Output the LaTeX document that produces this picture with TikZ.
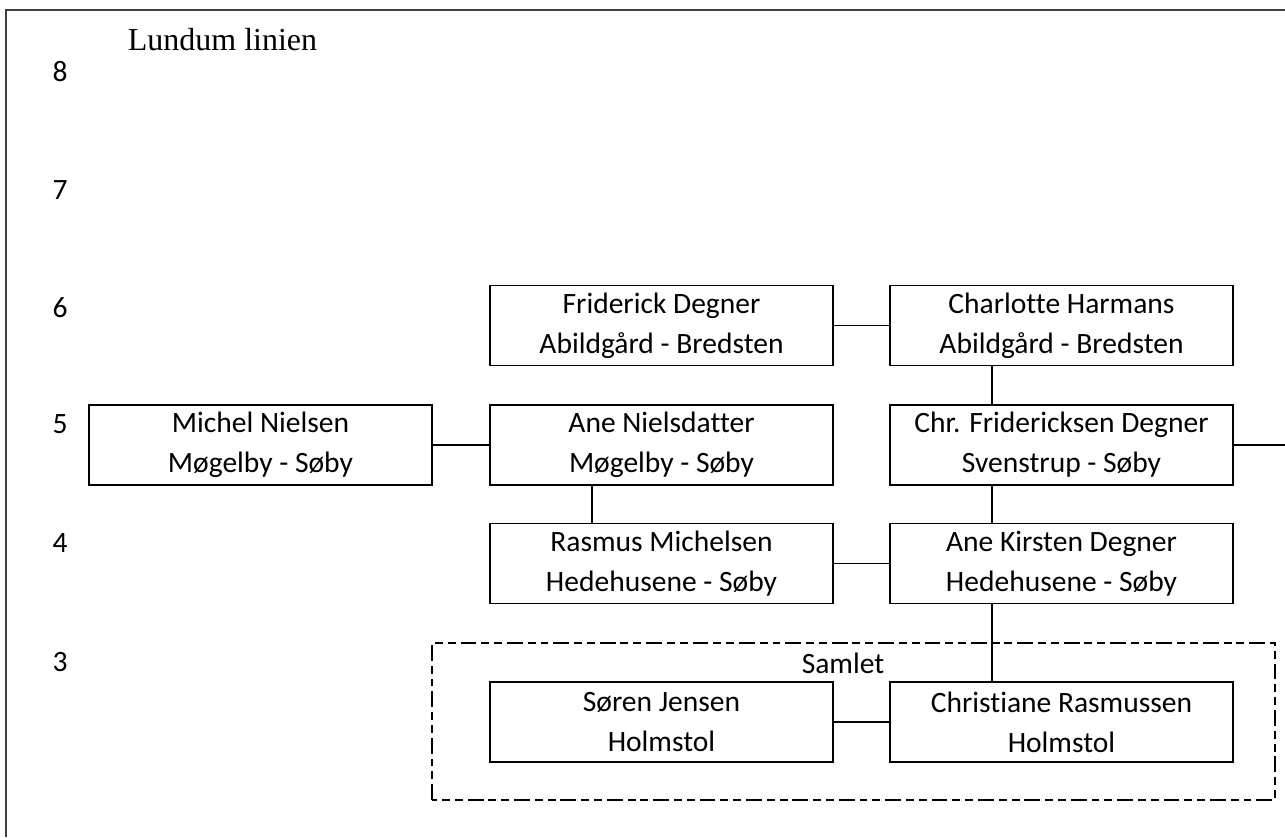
\documentclass[tikz,border=0pt]{standalone}
\usepackage{fontspec}
\setmainfont[Ligatures=NoCommon]{Carlito}
\newfontfamily\titlefont{Liberation Serif}
\begin{document}
\begin{tikzpicture}[
    person/.style={draw, line width=1pt, minimum width=6.86cm, minimum height=1.6cm,
        align=center, inner sep=0pt, font=\fontsize{16.8}{22.8}\selectfont},
    gen/.style={font=\fontsize{16.8}{20}\selectfont},
    link/.style={line width=0.8pt},
    samlet/.style={line width=0.9pt, dash pattern=on 9pt off 2.8pt on 4.5pt off 2.8pt on 4.5pt off 2.8pt}]
    \useasboundingbox (0,0) rectangle (25.7,16.74);
    \draw[line width=1.2pt, black!75] (0.12,0) -- (0.12,16.54) -- (25.7,16.54);
    \node[font=\titlefont\fontsize{18.2}{20}\selectfont] (title) at (4.45,15.94) {Lundum linien};
    \foreach \g/\y in {8/15.3, 7/12.94, 6/10.58, 5/8.26, 4/5.88, 3/3.5}
        \node[gen] (gen\g) at (1.2,\y) {\g};
    \node[person] (friderick) at (13.23,10.23) {Friderick Degner\\Abildgård - Bredsten};
    \node[person] (charlotte) at (21.23,10.23) {Charlotte Harmans\\Abildgård - Bredsten};
    \node[person] (michel) at (5.21,7.84) {Michel Nielsen\\Møgelby - Søby};
    \node[person] (ane) at (13.23,7.84) {Ane Nielsdatter\\Møgelby - Søby};
    \node[person] (chr) at (21.23,7.84) {Chr. Fridericksen Degner\\Svenstrup - Søby};
    \node[person] (rasmus) at (13.23,5.47) {Rasmus Michelsen\\Hedehusene - Søby};
    \node[person] (anekirsten) at (21.23,5.47) {Ane Kirsten Degner\\Hedehusene - Søby};
    \node[person] (soeren) at (13.23,2.30) {Søren Jensen\\Holmstol};
    \node[person] (christiane) at (21.23,2.30) {Christiane Rasmussen\\Holmstol};
    % samlet
    \draw[samlet] (8.64,0.74) rectangle (25.5,3.88);
    \node[gen] (samlettext) at (16.86,3.48) {Samlet};
    % links
    \coordinate (edge) at (25.7,7.84);
    \draw[link] (friderick) -- (charlotte);
    \draw[link] (michel) -- (ane);
    \draw[link] (chr) -- (edge);
    \draw[link] (rasmus) -- (anekirsten);
    \draw[link] (soeren) -- (christiane);
    \draw[link] ([xshift=2.06cm]charlotte.south west) -- ([xshift=2.06cm]chr.north west);
    \draw[link] ([xshift=2.06cm]ane.south west) -- ([xshift=2.06cm]rasmus.north west);
    \draw[link] ([xshift=2.06cm]chr.south west) -- ([xshift=2.06cm]anekirsten.north west);
    \draw[link] ([xshift=2.06cm]anekirsten.south west) -- ([xshift=2.06cm]christiane.north west);
\end{tikzpicture}
\end{document}
